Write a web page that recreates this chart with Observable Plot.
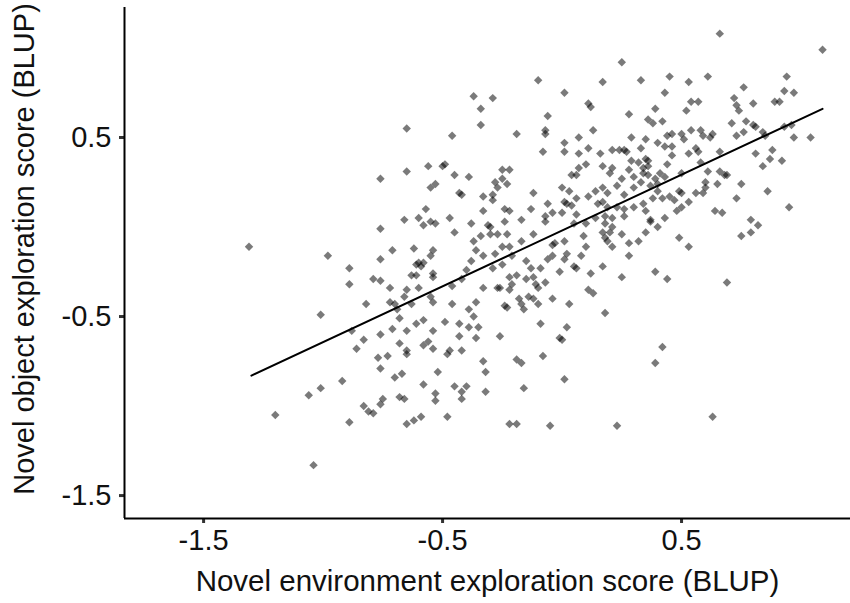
<!DOCTYPE html>
<html>
<head>
<meta charset="utf-8">
<script src="https://cdn.jsdelivr.net/npm/d3@7"></script>
<script src="https://cdn.jsdelivr.net/npm/@observablehq/plot@0.6"></script>
<style>
  html, body { margin: 0; padding: 0; background: #ffffff; }
  #chart { width: 850px; height: 603px; }
</style>
</head>
<body>
<div id="chart"></div>
<script>
// Novel environment exploration score (BLUP) per individual
const xValues = [
  -0.65,-0.76,-0.65,-0.56,-0.50,-0.49,-0.53,-0.55,-0.57,-0.66,-0.60,-0.58,-0.55,-0.53,-0.76,-1.31,-0.71,-0.62,-0.54,
  0.25,-0.10,0.17,-0.37,-0.29,0.01,-0.34,0.11,0.12,0.28,-0.06,-0.34,0.13,-0.46,-0.19,-0.07,-0.07,0.07,0.29,0.01,
  0.01,-0.08,0.07,0.11,0.16,0.21,0.24,0.26,0.27,0.29,-0.45,-0.39,-0.25,-0.22,0.10,0.07,0.04,0.06,0.17,0.21,
  0.20,0.25,0.28,0.30,-0.28,-0.25,-0.23,-0.27,-0.43,-0.42,-0.33,-0.29,-0.29,-0.12,0.00,0.03,0.06,0.11,0.14,0.17,
  0.19,0.23,0.26,0.02,0.04,0.01,-0.06,-0.24,-0.22,-0.33,-0.13,0.15,0.17,0.19,0.23,0.26,0.30,-0.47,-0.38,-0.31,
  -0.30,-0.24,-0.17,-0.07,-0.07,-0.04,0.00,0.06,0.10,0.05,0.14,0.18,0.18,0.21,0.21,0.26,-0.45,-0.34,-0.30,-0.27,
  -0.23,-0.37,-0.25,-0.22,-0.17,-0.12,-0.03,-0.04,0.01,0.09,0.17,0.20,0.18,0.19,0.25,0.28,0.32,0.10,0.21,
  0.66,1.09,0.33,0.45,0.53,0.61,0.43,0.76,0.94,0.93,0.97,0.72,0.73,0.74,0.54,0.57,0.52,0.39,0.80,0.89,0.91,
  0.36,0.38,0.42,0.71,0.77,0.80,0.81,0.54,0.58,0.46,0.44,0.50,0.51,0.59,0.62,0.63,0.73,0.76,0.84,0.85,0.93,
  0.96,0.97,1.04,0.35,0.40,0.43,0.46,0.33,0.46,0.53,0.56,0.57,0.66,0.81,0.88,0.87,0.92,0.84,0.32,0.35,0.36,
  0.34,0.36,0.44,0.58,0.34,0.36,0.41,0.43,0.50,0.61,0.66,0.68,0.69,0.33,0.37,0.39,0.40,0.60,0.65,0.75,0.30,
  0.40,0.42,0.45,0.47,0.49,0.50,0.56,0.59,0.60,0.86,0.73,0.34,0.38,0.35,0.48,0.50,0.53,0.64,0.67,0.95,0.43,
  0.37,0.37,0.40,0.35,0.79,0.82,0.79,0.75,0.49,0.53,
  -0.98,-0.89,-0.89,-0.76,-0.61,-0.60,-0.58,-0.59,-0.55,-0.79,-0.76,-0.72,-0.65,-0.63,-0.61,-0.54,-0.54,-0.60,
  -0.82,-0.72,-0.70,-0.69,-0.66,-0.63,-0.55,-0.54,-1.01,-0.68,-0.88,-0.83,-0.76,-0.71,-0.65,-0.61,-0.58,-0.54,
  -0.68,-0.56,-0.58,-0.54,-0.86,-0.65,-0.65,-0.77,-0.73,-0.76,-0.67,-0.70,-0.52,-0.92,-1.01,-1.06,-0.58,-0.53,
  -0.68,-0.66,-0.83,-0.81,-0.79,-0.76,-0.75,-0.53,-1.20,-0.89,-0.65,-0.62,-0.59,-1.04,
  -0.36,-0.33,-0.38,-0.28,-0.21,-0.46,-0.42,-0.40,-0.29,-0.25,-0.33,-0.27,-0.26,-0.22,-0.19,-0.21,-0.22,-0.15,
  -0.13,-0.15,-0.12,-0.11,-0.10,-0.09,-0.07,-0.06,-0.04,-0.01,0.01,0.02,0.05,0.06,0.08,0.12,0.17,0.28,0.11,0.13,
  0.25,-0.46,-0.39,-0.36,-0.24,-0.23,-0.18,-0.17,-0.16,-0.14,-0.12,-0.10,-0.04,0.03,0.18,-0.49,-0.43,-0.37,-0.39,
  -0.35,-0.43,-0.36,-0.26,-0.09,0.02,-0.01,0.00,-0.48,-0.47,-0.42,-0.08,-0.19,-0.17,-0.33,-0.32,0.01,-0.45,-0.40,
  -0.42,-0.16,-0.32,-0.42,-0.48,-0.22,-0.19,-0.05,0.23,
  0.39,0.44,0.69,0.42,0.39,0.63
];
// Novel object exploration score (BLUP), same order
const yValues = [
  0.55,0.27,0.31,0.34,0.34,0.35,0.24,0.22,0.10,0.04,0.05,0.01,0.03,0.02,-0.01,-0.11,-0.13,-0.12,-0.13,
  0.92,0.82,0.81,0.73,0.72,0.75,0.66,0.69,0.67,0.63,0.62,0.57,0.54,0.51,0.52,0.54,0.52,0.50,0.50,0.47,
  0.42,0.42,0.41,0.44,0.41,0.43,0.43,0.43,0.42,0.37,0.29,0.28,0.32,0.32,0.35,0.33,0.29,0.29,0.34,0.33,
  0.30,0.27,0.32,0.28,0.25,0.27,0.24,0.22,0.19,0.18,0.17,0.18,0.15,0.19,0.22,0.20,0.16,0.17,0.20,0.22,
  0.19,0.23,0.18,0.13,0.12,0.14,0.13,0.10,0.09,0.09,0.10,0.13,0.14,0.11,0.11,0.10,0.11,0.05,0.02,0.01,
  0.00,0.03,0.04,0.06,0.03,0.08,0.08,0.07,0.02,0.02,0.05,0.06,0.02,0.05,0.00,0.06,-0.03,-0.05,-0.04,-0.04,
  -0.04,-0.08,-0.11,-0.11,-0.08,-0.04,-0.09,-0.10,-0.08,-0.05,-0.03,-0.03,-0.06,-0.08,-0.04,-0.09,-0.08,-0.11,-0.11,
  1.08,0.99,0.82,0.84,0.81,0.84,0.75,0.78,0.84,0.76,0.75,0.72,0.68,0.65,0.70,0.70,0.65,0.66,0.69,0.70,0.70,
  0.60,0.58,0.59,0.58,0.59,0.57,0.56,0.54,0.54,0.52,0.51,0.52,0.49,0.51,0.50,0.52,0.51,0.53,0.53,0.51,0.56,
  0.57,0.50,0.50,0.49,0.47,0.45,0.45,0.44,0.40,0.41,0.44,0.42,0.42,0.41,0.43,0.38,0.37,0.34,0.36,0.38,0.37,
  0.33,0.34,0.35,0.36,0.30,0.29,0.30,0.28,0.30,0.31,0.31,0.29,0.29,0.25,0.23,0.27,0.24,0.25,0.24,0.24,0.22,
  0.20,0.16,0.17,0.15,0.20,0.19,0.19,0.19,0.22,0.20,0.16,0.13,0.16,0.09,0.09,0.11,0.14,0.09,0.08,0.11,0.05,
  0.04,0.03,0.00,-0.03,0.04,0.01,-0.03,-0.05,-0.06,-0.11,
  -0.16,-0.23,-0.32,-0.18,-0.21,-0.20,-0.20,-0.22,-0.16,-0.29,-0.30,-0.34,-0.35,-0.27,-0.27,-0.26,-0.28,-0.34,
  -0.43,-0.42,-0.43,-0.46,-0.39,-0.43,-0.39,-0.42,-0.49,-0.51,-0.58,-0.63,-0.60,-0.57,-0.58,-0.54,-0.52,-0.58,
  -0.65,-0.64,-0.66,-0.68,-0.68,-0.69,-0.71,-0.73,-0.72,-0.79,-0.82,-0.84,-0.81,-0.86,-0.90,-0.94,-0.88,-0.93,
  -0.95,-0.96,-1.00,-1.03,-1.04,-0.99,-0.96,-0.97,-1.05,-1.09,-1.10,-1.08,-1.06,-1.33,
  -0.13,-0.16,-0.19,-0.15,-0.16,-0.33,-0.29,-0.24,-0.23,-0.21,-0.34,-0.34,-0.34,-0.28,-0.27,-0.32,-0.35,-0.19,
  -0.23,-0.29,-0.28,-0.32,-0.34,-0.23,-0.31,-0.18,-0.16,-0.25,-0.18,-0.15,-0.22,-0.23,-0.16,-0.26,-0.22,-0.16,-0.35,-0.37,
  -0.28,-0.43,-0.46,-0.42,-0.44,-0.45,-0.40,-0.43,-0.46,-0.39,-0.40,-0.43,-0.40,-0.43,-0.48,-0.53,-0.54,-0.50,-0.56,
  -0.56,-0.61,-0.62,-0.61,-0.54,-0.56,-0.62,-0.63,-0.71,-0.69,-0.69,-0.72,-0.74,-0.76,-0.75,-0.81,-0.85,-0.89,-0.89,
  -0.92,-0.90,-0.92,-0.96,-1.06,-1.10,-1.10,-1.11,-1.11,
  -0.25,-0.29,-0.31,-0.67,-0.76,-1.06
];
// fitted regression line end points
const fitX = [-1.30, 1.09];
const fitY = [-0.83, 0.66];

const xTicks = [-1.5, -0.5, 0.5];
const yTicks = [-1.5, -0.5, 0.5];
const xTitle = "Novel environment exploration score (BLUP)";
const yTitle = "Novel object exploration score (BLUP)";

const n = Math.min(xValues.length, yValues.length);
const points = d3.range(n).map(i => ({x: xValues[i], y: yValues[i]}));
const fit = fitX.map((x, i) => ({x, y: fitY[i]}));

const xDomain = [-1.831, 1.207];
const yDomain = [-1.628, 1.226];
const fmt = d => String(d);
const font = "'Liberation Sans', Arial, sans-serif";

const chart = Plot.plot({
  width: 850,
  height: 603,
  marginTop: 7,
  marginRight: 0,
  marginBottom: 85,
  marginLeft: 124,
  style: {fontFamily: font, fontSize: "29px", background: "#ffffff", color: "#111"},
  x: {domain: xDomain},
  y: {domain: yDomain},
  marks: [
    Plot.dot(points, {x: "x", y: "y", symbol: "diamond2", r: 3.8, fill: "#000", fillOpacity: 0.52, stroke: "none"}),
    Plot.line(fit, {x: "x", y: "y", stroke: "#000", strokeWidth: 2}),
    Plot.axisX({ticks: xTicks, tickFormat: fmt, tickSize: 5, tickPadding: 6, fontSize: 29, stroke: "#333", strokeWidth: 3, label: null, fill: "#111"}),
    Plot.axisY({ticks: yTicks, tickFormat: fmt, tickSize: 5, tickPadding: 8, fontSize: 29, stroke: "#333", strokeWidth: 3, label: null, fill: "#111"}),
    Plot.ruleY([yDomain[0]], {stroke: "#000", strokeWidth: 2}),
    Plot.ruleX([xDomain[0]], {stroke: "#000", strokeWidth: 2}),
    Plot.text([xTitle], {text: d => d, frameAnchor: "bottom", textAnchor: "middle", lineAnchor: "middle", dy: 63, fontSize: 29.5, fill: "#111"}),
    Plot.text([yTitle], {text: d => d, frameAnchor: "left", textAnchor: "middle", lineAnchor: "middle", rotate: -90, dx: -100, dy: -14, fontSize: 29, fill: "#111"})
  ]
});
document.getElementById("chart").appendChild(chart);
</script>
</body>
</html>
